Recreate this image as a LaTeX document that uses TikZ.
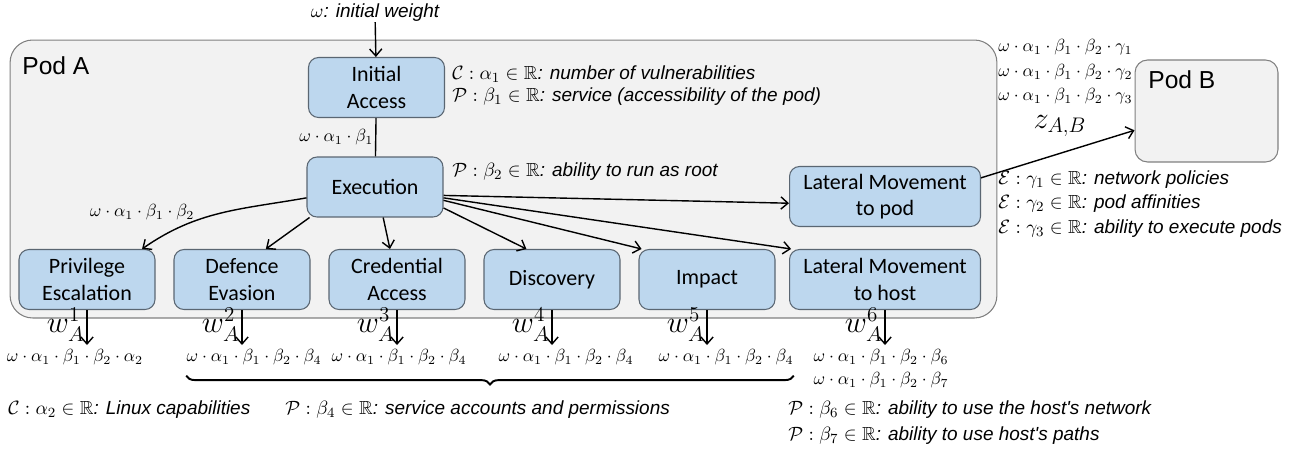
\documentclass[tikz,border=0pt]{standalone}
\usepackage{amsmath,amssymb}
\usepackage{fontspec}
\setmainfont{Liberation Sans}
\newfontfamily\boxfont{Carlito}
\usepackage{tikz}
\usetikzlibrary{positioning,arrows.meta,decorations.pathreplacing}
\definecolor{tacticblue}{HTML}{BDD7EE}
\definecolor{podfill}{HTML}{F2F2F2}
\definecolor{podedge}{HTML}{808080}
\definecolor{boxedge}{HTML}{5A6672}

\begin{document}
\begin{tikzpicture}[
    x=0.02cm, y=-0.02cm,
    pod/.style={rectangle, draw=podedge, fill=podfill, rounded corners=0.45cm, line width=0.6pt, inner sep=0pt},
    tactic/.style={rectangle, draw=boxedge, fill=tacticblue, rounded corners=0.2cm, minimum width=2.72cm, minimum height=1.2cm, align=center, inner sep=0pt, font=\boxfont\fontsize{12.5}{15}\selectfont, line width=0.6pt},
    wide/.style={tactic, minimum width=3.82cm},
    arrow/.style={-{Straight Barb[length=4pt,width=7pt]}, line width=0.8pt},
    note/.style={anchor=west, inner sep=0pt, font=\fontsize{10.8}{13}\selectfont\itshape},
    weight/.style={inner sep=0pt, font=\fontsize{9.7}{11}\selectfont},
    wlab/.style={inner sep=1pt, font=\fontsize{18}{18}\selectfont}
]
    \useasboundingbox (0,0) rectangle (1293,453);

    \node[pod, minimum width=19.74cm, minimum height=5.56cm] (podA) at (503.5,179) {};
    \node[anchor=west, inner sep=0pt, font=\fontsize{14}{16}\selectfont] (podAlab) at (22,66) {Pod A};
    \node[pod, rounded corners=0.25cm, minimum width=2.86cm, minimum height=2.04cm] (podB) at (1206.5,111) {};
    \node[anchor=west, inner sep=0pt, font=\fontsize{14}{16}\selectfont] (podBlab) at (1148,80) {Pod B};

    \node[tactic] (init) at (376.5,87.5) {Initial\\Access};
    \node[tactic] (exec) at (375,187) {Execution};
    \node[wide] (lpod) at (885,196.5) {Lateral Movement\\to pod};
    \foreach \name/\x/\txt in {priv/87/{Privilege\\Escalation}, def/242/{Defence\\Evasion}, cred/397/{Credential\\Access}, disc/552/Discovery, imp/707/Impact} {
        \node[tactic] (\name) at (\x,279.5) {\txt};
    }
    \node[wide] (lhost) at (885,279.5) {Lateral Movement\\to host};

    \node[note, anchor=center] (omega) at (375,13) {$\omega$: initial weight};
    \draw[arrow] (omega) -- (init);
    \draw[line width=0.8pt] (init) -- (exec) node[midway, left, weight, inner sep=1pt] {$\omega\cdot\alpha_1\cdot\beta_1$};

    \node[note] (la1) at (452,74) {$\mathcal{C}:\alpha_1\in\mathbb{R}$: number of vulnerabilities};
    \node[note] (lb1) at (452,97) {$\mathcal{P}:\beta_1\in\mathbb{R}$: service (accessibility of the pod)};
    \node[note] (lb2) at (452,172) {$\mathcal{P}:\beta_2\in\mathbb{R}$: ability to run as root};
    \node[weight] (wexec) at (142,212) {$\omega\cdot\alpha_1\cdot\beta_1\cdot\beta_2$};

    \draw[arrow] (exec.189) to[out=190, in=35] (priv.29);
    \draw[arrow] (exec.205) -- (def.52);
    \draw[arrow] (exec.285) -- (cred.103);
    \draw[arrow] (exec.343) -- (disc.130);
    \draw[arrow] (exec.349) -- (imp.155);
    \draw[arrow] (exec.351) -- (lhost.162);
    \draw[arrow] (exec.353) -- (lpod.184);
    \draw[arrow] (lpod.11) -- (podB.195);

    \foreach \y/\i in {47/1, 72/2, 96/3} {
        \node[weight, anchor=west] (g\i) at (998,\y) {$\omega\cdot\alpha_1\cdot\beta_1\cdot\beta_2\cdot\gamma_\i$};
    }
    \node[wlab] (zab) at (1060,126) {$z_{A,B}$};
    \node[note] (lg1) at (998,180) {$\mathcal{E}:\gamma_1\in\mathbb{R}$: network policies};
    \node[note] (lg2) at (998,204) {$\mathcal{E}:\gamma_2\in\mathbb{R}$: pod affinities};
    \node[note] (lg3) at (998,229) {$\mathcal{E}:\gamma_3\in\mathbb{R}$: ability to execute pods};

    \foreach \name/\i in {priv/1, def/2, cred/3, disc/4, imp/5, lhost/6} {
        \draw[arrow] (\name.south) -- ++(0,35) coordinate (w\i) node[pos=0.42, left, wlab] {$w_A^{\i}$};
    }

    \node[weight] (f1) at (75,357) {$\omega\cdot\alpha_1\cdot\beta_1\cdot\beta_2\cdot\alpha_2$};
    \foreach \name/\x in {f2/254, f3/399, f4/566, f5/726} {
        \node[weight] (\name) at (\x,357) {$\omega\cdot\alpha_1\cdot\beta_1\cdot\beta_2\cdot\beta_4$};
    }
    \node[weight] (f6) at (881,357) {$\omega\cdot\alpha_1\cdot\beta_1\cdot\beta_2\cdot\beta_6$};
    \node[weight] (f7) at (881,380) {$\omega\cdot\alpha_1\cdot\beta_1\cdot\beta_2\cdot\beta_7$};
    \draw[decorate, decoration={brace, mirror, amplitude=5pt}, line width=1.1pt] ([yshift=-6pt]f2.south west) -- ([yshift=-6pt]f5.south east);

    \node[note] (la2) at (8,410) {$\mathcal{C}:\alpha_2\in\mathbb{R}$: Linux capabilities};
    \node[note] (lb4) at (285,410) {$\mathcal{P}:\beta_4\in\mathbb{R}$: service accounts and permissions};
    \node[note] (lb6) at (788,410) {$\mathcal{P}:\beta_6\in\mathbb{R}$: ability to use the host\textquotesingle s network};
    \node[note] (lb7) at (788,436) {$\mathcal{P}:\beta_7\in\mathbb{R}$: ability to use host\textquotesingle s paths};
\end{tikzpicture}
\end{document}
